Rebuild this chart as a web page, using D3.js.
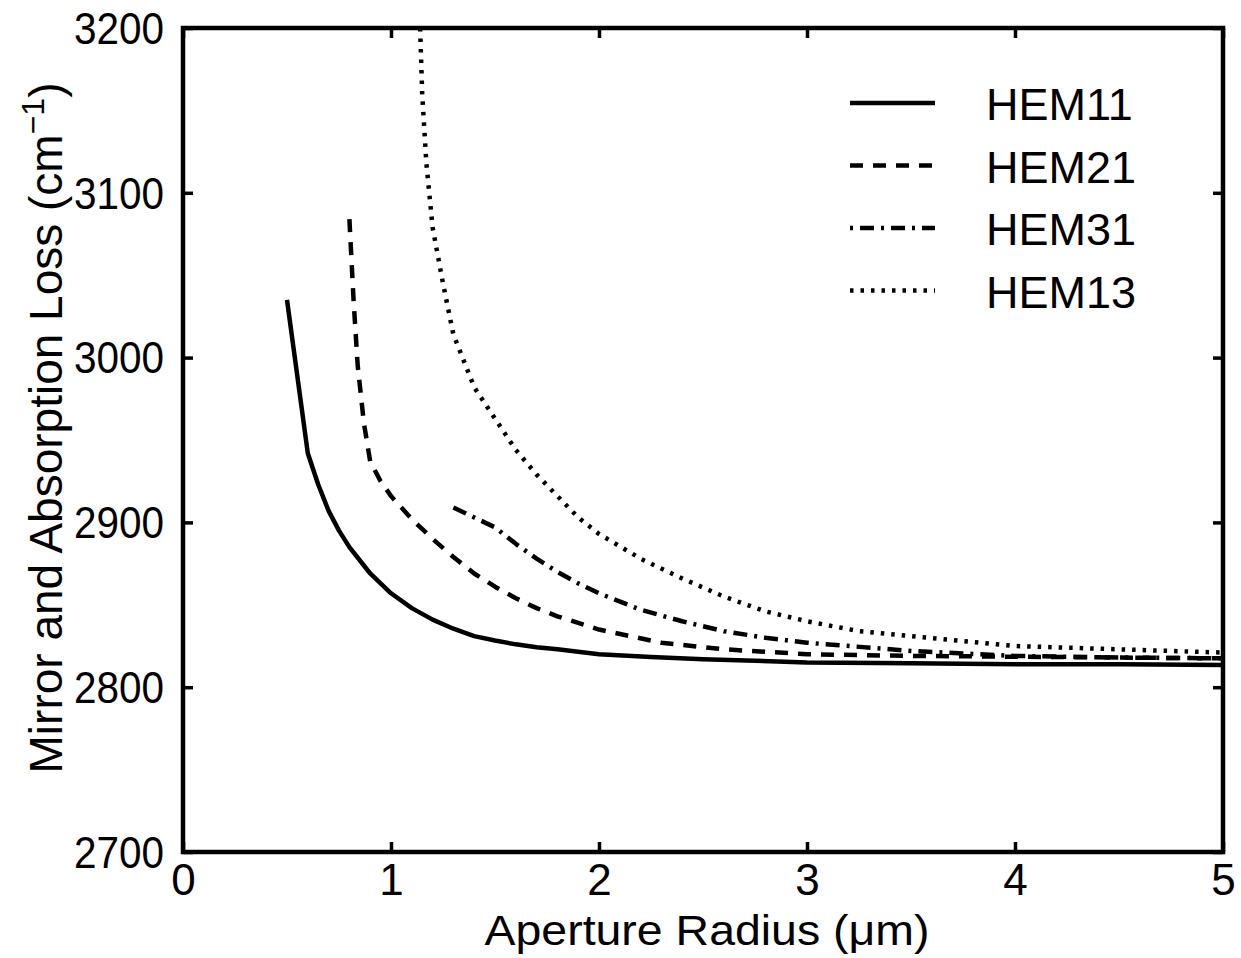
<!DOCTYPE html>
<html>
<head>
<meta charset="utf-8">
<script src="https://cdn.jsdelivr.net/npm/d3@7"></script>
<style>
  html, body { margin: 0; padding: 0; background: #fff; }
  svg { display: block; }
  text { font-family: "Liberation Sans", Arial, Helvetica, sans-serif; fill: #000; }
</style>
</head>
<body>
<svg id="chart" width="1241" height="958"></svg>
<script>
// ---- data ----
const xTicks = [0, 1, 2, 3, 4, 5];
const yTicks = [2700, 2800, 2900, 3000, 3100, 3200];
const seriesNames = ["HEM11", "HEM21", "HEM31", "HEM13"];

const hem11X = [0.5, 0.6, 0.65, 0.7, 0.75, 0.8, 0.9, 1.0, 1.1, 1.2, 1.3, 1.4, 1.5, 1.6, 1.7, 1.8, 2.0, 2.25, 2.5, 2.75, 3.0, 3.5, 4.0, 4.5, 5.0];
const hem11Y = [3035, 2942, 2923, 2907, 2895, 2885, 2869, 2857, 2848, 2841, 2835.5, 2831, 2828.3, 2826, 2824.3, 2823, 2820, 2818.3, 2817, 2816, 2815, 2814.5, 2814, 2814, 2813.5];

const hem21X = [0.8, 0.82, 0.84, 0.87, 0.9, 0.95, 1.0, 1.1, 1.2, 1.3, 1.4, 1.5, 1.6, 1.7, 1.8, 1.9, 2.0, 2.15, 2.3, 2.6, 3.0, 3.5, 4.0, 4.5, 5.0];
const hem21Y = [3084, 3035, 2995, 2960, 2937, 2925, 2916, 2902, 2890, 2879, 2869, 2861, 2854, 2848, 2843, 2839, 2835, 2831, 2827, 2823, 2820, 2819, 2818.5, 2818, 2817.5];

const hem31X = [1.3, 1.4, 1.5, 1.6, 1.7, 1.8, 1.9, 2.0, 2.2, 2.4, 2.6, 2.8, 3.0, 3.5, 4.0, 4.5, 5.0];
const hem31Y = [2909, 2903, 2897, 2887, 2878, 2870, 2863, 2857, 2847, 2840, 2834, 2830, 2827, 2822, 2819, 2818, 2817.5];

const hem13X = [1.14, 1.15, 1.17, 1.2, 1.25, 1.3, 1.4, 1.5, 1.6, 1.7, 1.8, 1.9, 2.0, 2.2, 2.4, 2.6, 2.8, 3.0, 3.25, 3.5, 4.0, 4.5, 5.0];
const hem13Y = [3200, 3160, 3118, 3079, 3045, 3014, 2982, 2963, 2944, 2929, 2916, 2903, 2893, 2878, 2866, 2855, 2846, 2840, 2834, 2831, 2825, 2823, 2821];

const seriesX = [hem11X, hem21X, hem31X, hem13X];
const seriesY = [hem11Y, hem21Y, hem31Y, hem13Y];
const dashes = [null, "13,10", "14,7,3,7", "3.5,7"];
const legendOffsets = [0, 0, 21, 0];

// ---- layout ----
const svg = d3.select("#chart");
const L = 183, R = 1223, T = 28, B = 852;

const x = d3.scaleLinear().domain([0, 5]).range([L, R]);
const y = d3.scaleLinear().domain([2700, 3200]).range([B, T]);

svg.append("defs").append("clipPath").attr("id", "clip")
  .append("rect").attr("x", L).attr("y", T).attr("width", R - L).attr("height", B - T);

// curves
const line = d3.line().x(d => x(d[0])).y(d => y(d[1])).curve(d3.curveLinear);
seriesNames.forEach((name, i) => {
  const pts = seriesX[i].map((v, j) => [v, seriesY[i][j]]);
  svg.append("path")
    .attr("clip-path", "url(#clip)")
    .attr("d", line(pts))
    .attr("fill", "none")
    .attr("stroke", "#000")
    .attr("stroke-width", 4.5)
    .attr("stroke-dasharray", dashes[i])
    .attr("stroke-linejoin", "round");
});

// axes (ticks inward on all four sides)
const tickLen = 10;
const axBottom = svg.append("g").attr("transform", `translate(0,${B})`)
  .call(d3.axisBottom(x).tickValues(xTicks).tickSize(-tickLen).tickPadding(12).tickFormat(d3.format("d")));
const axTop = svg.append("g").attr("transform", `translate(0,${T})`)
  .call(d3.axisTop(x).tickValues(xTicks).tickSize(-tickLen).tickFormat(""));
const axLeft = svg.append("g").attr("transform", `translate(${L},0)`)
  .call(d3.axisLeft(y).tickValues(yTicks).tickSize(-tickLen).tickPadding(19).tickFormat(d3.format("d")));
const axRight = svg.append("g").attr("transform", `translate(${R},0)`)
  .call(d3.axisRight(y).tickValues(yTicks).tickSize(-tickLen).tickFormat(""));

[axBottom, axTop, axLeft, axRight].forEach(g => {
  g.select(".domain").remove();
  g.selectAll(".tick line").attr("stroke", "#000").attr("stroke-width", 3.5);
  g.selectAll(".tick text").attr("font-family", "Liberation Sans, Arial, sans-serif").attr("fill", "#000");
});
axBottom.selectAll(".tick text").attr("font-size", 44);
axLeft.selectAll(".tick text").attr("font-size", 45).attr("dy", "0.34em")
  .attr("textLength", 90).attr("lengthAdjust", "spacingAndGlyphs");

// frame
svg.append("rect").attr("x", L).attr("y", T).attr("width", R - L).attr("height", B - T)
  .attr("fill", "none").attr("stroke", "#000").attr("stroke-width", 4.5);

// axis titles
svg.append("text").attr("x", 707).attr("y", 945)
  .attr("text-anchor", "middle").attr("font-size", 43)
  .attr("textLength", 445).attr("lengthAdjust", "spacingAndGlyphs")
  .text("Aperture Radius (\u03bcm)");

const yt = svg.append("text").attr("transform", `translate(62,428) rotate(-90)`)
  .attr("text-anchor", "middle").attr("font-size", 46);
yt.append("tspan").text("Mirror and Absorption Loss (cm");
yt.append("tspan").attr("dy", -18).attr("font-size", 32).text("\u22121");
yt.append("tspan").attr("dy", 18).text(")");

// legend
const legY0 = 103, legStep = 62.5;
seriesNames.forEach((name, i) => {
  const ly = legY0 + i * legStep;
  svg.append("line").attr("x1", 850).attr("x2", 935).attr("y1", ly).attr("y2", ly)
    .attr("stroke", "#000").attr("stroke-width", 4.5).attr("stroke-dasharray", dashes[i])
    .attr("stroke-dashoffset", legendOffsets[i]);
  svg.append("text").attr("x", 986).attr("y", ly + 17).attr("font-size", 45).text(name);
});
</script>
</body>
</html>
